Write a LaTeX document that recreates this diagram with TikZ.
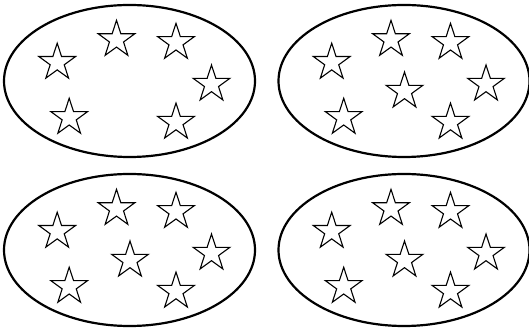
\documentclass[tikz,border=0pt]{standalone}
\usetikzlibrary{calc}
\tikzset{
  ovalline/.style={line width=2.2pt, draw=black},
  starline/.style={line width=1.1pt, draw=black, line join=miter},
  pics/mystar/.style={code={
    \draw[starline] (90:19.3) \foreach \a in {90,162,234,306,378} { -- (\a+36:7.4) -- (\a+72:19.3) } -- cycle;
  }}
}
\begin{document}
\begin{tikzpicture}[x=1pt,y=1pt]
\useasboundingbox (0,0) rectangle (529,328);
% ellipses: name, center, with or without center star
\foreach \cx/\cy/\mid in {129.5/247/0, 404/247/1, 129.5/78/1, 404/78/1}{
  \begin{scope}[shift={(\cx,\cy)}]
    \draw[ovalline] (0,0) ellipse [x radius=125.5, y radius=76];
    \foreach \sx/\sy in {-72.3/18.5, -13/41.3, 46.5/38.4, 82/-3.3, -60.3/-36.6, 46.5/-41.4}{
      \pic at (\sx,\sy) {mystar};
    }
    \ifnum\mid=1
      \pic at (0.5,-10.3) {mystar};
    \fi
  \end{scope}
}
\end{tikzpicture}
\end{document}
